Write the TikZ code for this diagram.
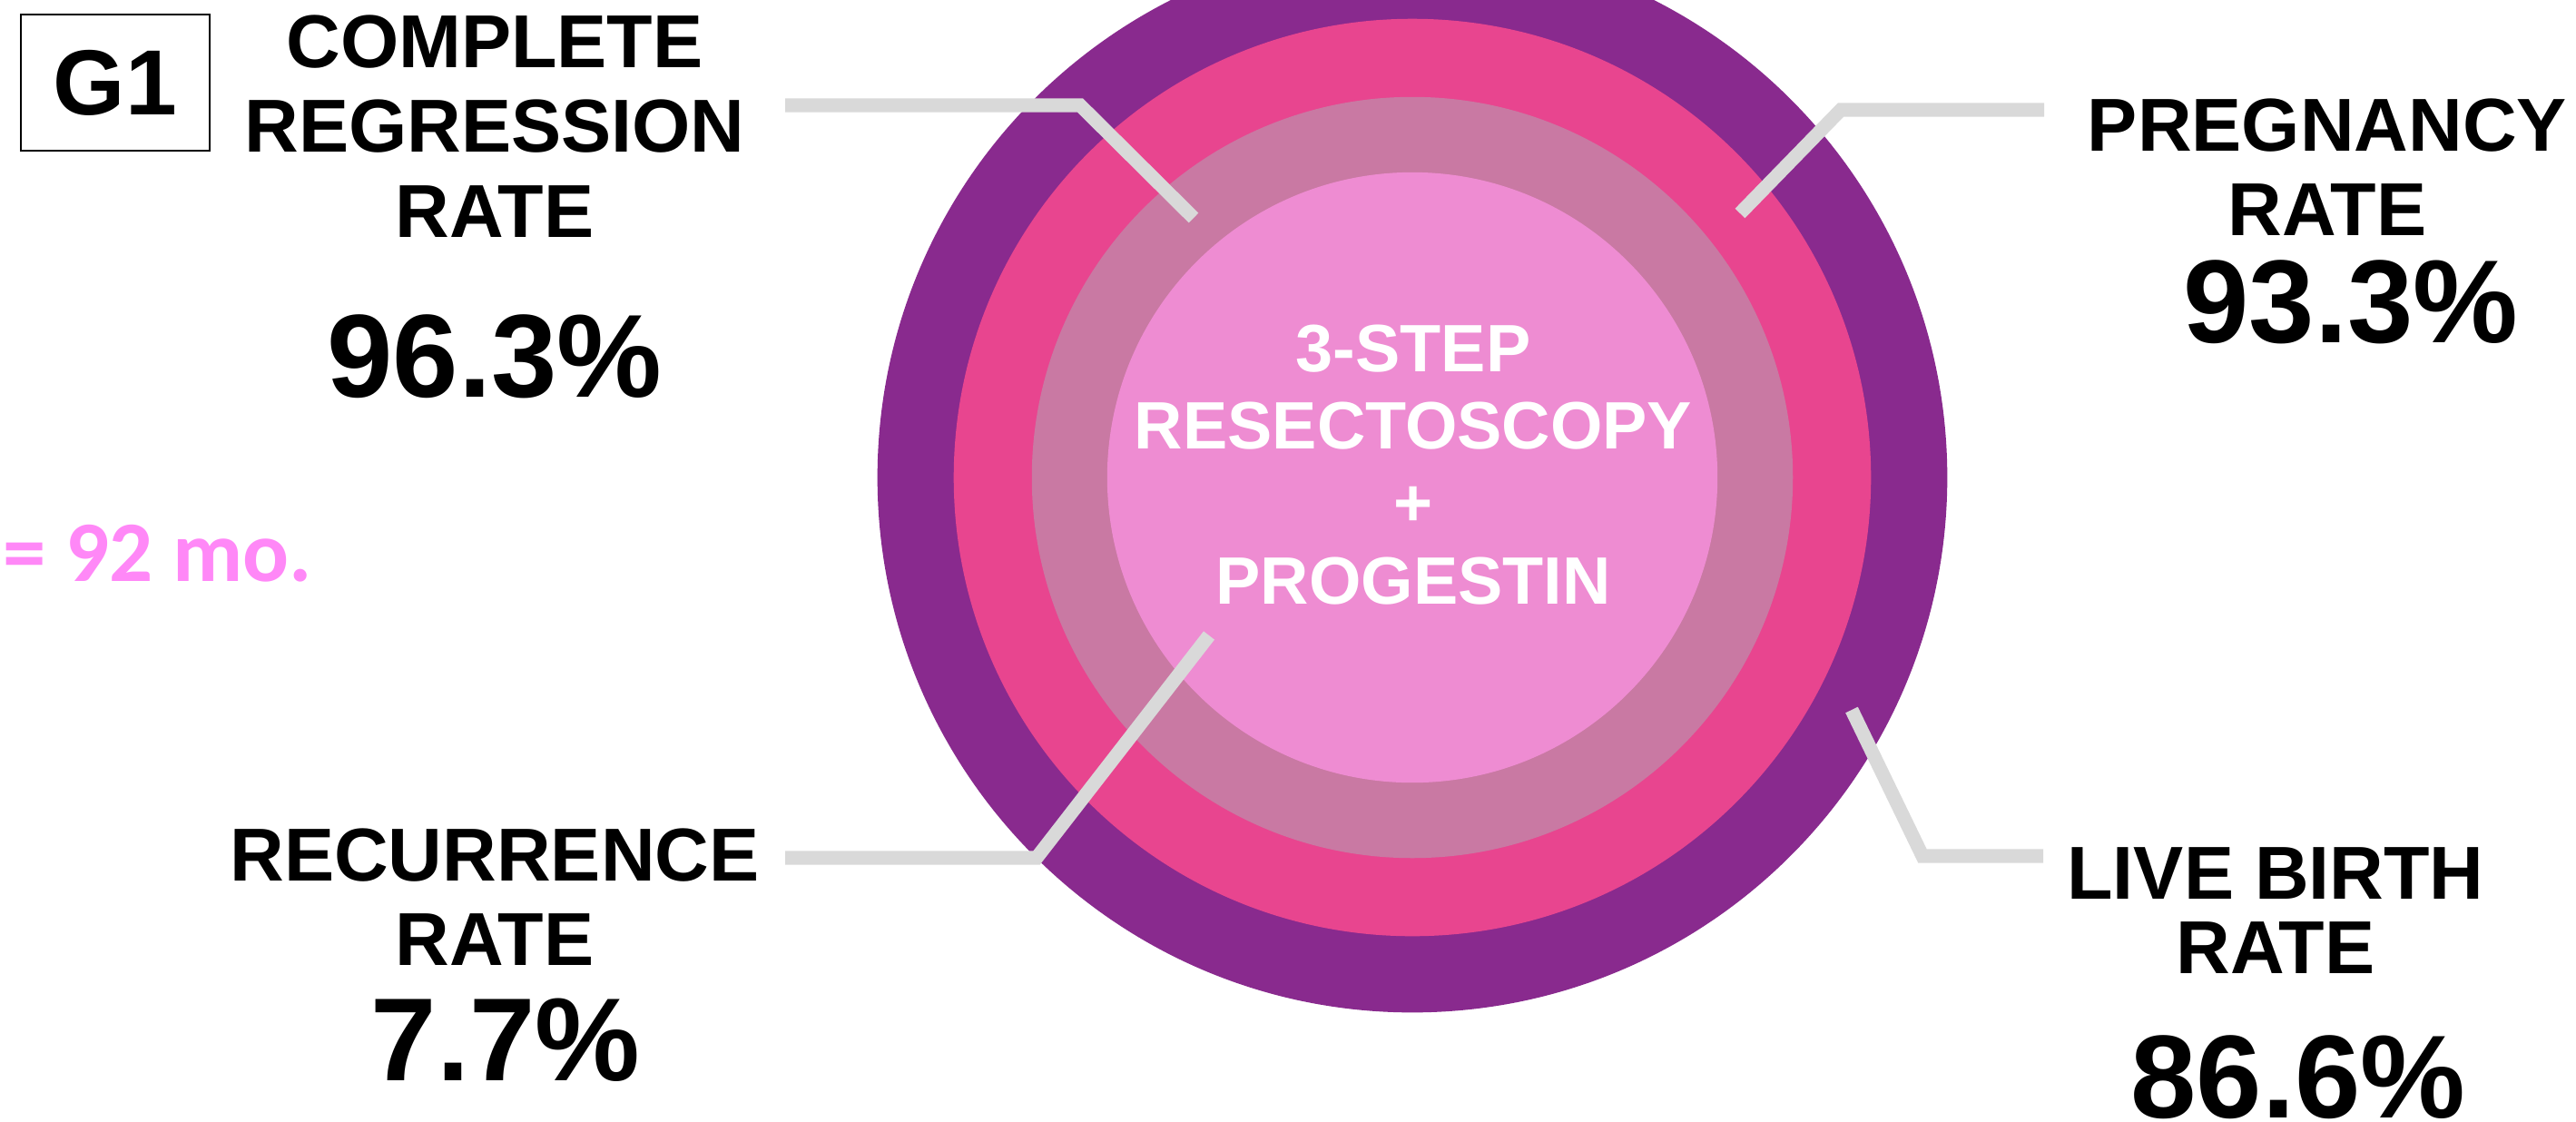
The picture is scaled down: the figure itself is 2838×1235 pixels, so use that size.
\documentclass[tikz,border=0pt]{standalone}
\usepackage{fontspec}
\setmainfont{Liberation Sans}
\newfontfamily\calfont{Carlito}
\definecolor{ringouter}{RGB}{137,42,142}
\definecolor{ringpink}{RGB}{232,69,143}
\definecolor{ringmauve}{RGB}{201,121,163}
\definecolor{corepink}{RGB}{238,140,210}
\definecolor{guidegray}{RGB}{217,217,217}
\definecolor{notepink}{RGB}{255,136,247}
\begin{document}
\begin{tikzpicture}[x=0.01cm,y=-0.01cm]
  \tikzstyle{every node}=[inner sep=0pt]
  \tikzstyle{lbl}=[font=\bfseries\fontsize{23.5}{26.5}\selectfont,align=center]
  \tikzstyle{val}=[font=\bfseries\fontsize{37}{40}\selectfont]
  \tikzstyle{guide}=[draw=guidegray,line width=4.3pt]
  \useasboundingbox (0,0) rectangle (2838,1235);
  \clip (0,0) rectangle (2838,1235);
  \coordinate (c) at (1556,526);
  \fill[ringouter] (c) circle[radius=5.89cm];
  \fill[ringpink] (c) circle[radius=5.05cm];
  \fill[ringmauve] (c) circle[radius=4.19cm];
  \fill[corepink] (c) circle[radius=3.36cm];
  % leader lines
  \coordinate (tl0) at (865,116);
  \coordinate (tl1) at (1190,116);
  \coordinate (tl2) at (1315,240);
  \coordinate (tr0) at (2252,121);
  \coordinate (tr1) at (2028,121);
  \coordinate (tr2) at (1917,235);
  \coordinate (bl0) at (865,945);
  \coordinate (bl1) at (1142,945);
  \coordinate (bl2) at (1332,700);
  \coordinate (br0) at (2251,943);
  \coordinate (br1) at (2118,943);
  \coordinate (br2) at (2040,782);
  \draw[guide] (tl0) -- (tl1) -- (tl2);
  \draw[guide] (tr0) -- (tr1) -- (tr2);
  \draw[guide] (bl0) -- (bl1) -- (bl2);
  \draw[guide] (br0) -- (br1) -- (br2);
  \node[lbl,text=white,font=\bfseries\fontsize{21}{24.2}\selectfont] (core) at (1557,512)
    {3-STEP\\RESECTOSCOPY\\+\\PROGESTIN};
  \node[draw,line width=0.8pt,minimum width=2.08cm,minimum height=1.5cm,
        font=\bfseries\fontsize{29}{32}\selectfont] (g1) at (127,91) {G1};
  \node[lbl] (crr) at (545,139) {COMPLETE\\REGRESSION\\RATE};
  \node[val] (crrval) at (545,393) {96.3\%};
  \node[lbl] (preg) at (2564,184) {PREGNANCY\\RATE};
  \node[val] (pregval) at (2590,333) {93.3\%};
  \node[lbl] (recur) at (545,988) {RECURRENCE\\RATE};
  \node[val] (recurval) at (557,1146) {7.7\%};
  \node[lbl,font=\bfseries\fontsize{23.5}{23.5}\selectfont] (live) at (2507,1003) {LIVE BIRTH\\RATE};
  \node[val] (liveval) at (2532,1187) {86.6\%};
  \node[anchor=west,text=notepink,font=\calfont\bfseries\fontsize{27}{30}\selectfont]
    (fu) at (3,610) {= 92 mo.};
\end{tikzpicture}
\end{document}
